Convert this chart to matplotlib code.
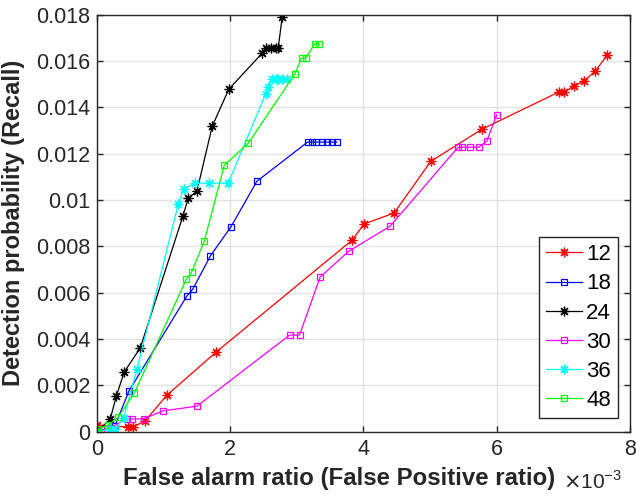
import matplotlib
matplotlib.use("Agg")
from matplotlib import pyplot as plt
from matplotlib.ticker import FuncFormatter
import numpy as np

plt.rcParams['font.family'] = ['Liberation Sans', 'DejaVu Sans']

# false alarm ratio (x 1e-3) and recall per window size
fa_12 = [0.0, 0.47, 0.54, 0.72, 1.05, 1.79, 3.83, 4.01, 4.46, 5.01, 5.78, 6.93, 7.01, 7.16, 7.31, 7.48, 7.66]
rc_12 = [0.00029, 0.0002, 0.0002, 0.00046, 0.00158, 0.00344, 0.00827, 0.00897, 0.00944, 0.01167,
         0.01306, 0.01466, 0.01466, 0.01492, 0.01514, 0.01557, 0.01626]

fa_18 = [0.0, 0.27, 0.48, 1.35, 1.44, 1.70, 2.01, 2.40, 3.16, 3.22, 3.29, 3.37, 3.46, 3.53, 3.60]
rc_18 = [0.0, 0.00025, 0.00176, 0.00586, 0.00616, 0.00758, 0.00884, 0.01081,
         0.0125, 0.0125, 0.0125, 0.0125, 0.0125, 0.0125, 0.0125]

fa_24 = [0.0, 0.20, 0.29, 0.41, 0.65, 1.29, 1.37, 1.50, 1.73, 1.98, 2.48, 2.53, 2.61, 2.68, 2.72, 2.78]
rc_24 = [0.0, 0.00055, 0.00154, 0.00258, 0.00362, 0.00931, 0.01008, 0.01038, 0.01319, 0.01479,
         0.01634, 0.01656, 0.01656, 0.01656, 0.01656, 0.0179]

fa_30 = [0.0, 0.15, 0.45, 0.53, 0.70, 0.99, 1.50, 2.89, 3.04, 3.35, 3.78, 4.40, 5.42, 5.48,
         5.60, 5.73, 5.85, 6.00]
rc_30 = [0.0, 0.0001, 0.00055, 0.00055, 0.00055, 0.0009, 0.0011, 0.00417, 0.00417, 0.00668,
         0.00779, 0.00887, 0.01228, 0.01228, 0.01228, 0.01228, 0.01254, 0.01367]

fa_36 = [0.0, 0.20, 0.27, 0.40, 0.60, 1.22, 1.30, 1.47, 1.68, 1.97, 2.53, 2.57, 2.63,
         2.68, 2.72, 2.78, 2.85]
rc_36 = [0.0, 0.0001, 0.0001, 0.0006, 0.0027, 0.00982, 0.01047, 0.01073, 0.01073, 0.01073,
         0.01457, 0.01487, 0.01522, 0.01522, 0.01522, 0.01522, 0.01522]

fa_48 = [0.0, 0.02, 0.17, 0.32, 0.56, 1.34, 1.42, 1.61, 1.91, 2.27, 2.97, 3.07, 3.13, 3.27, 3.33]
rc_48 = [0.0, 0.0001, 0.00029, 0.00063, 0.00167, 0.00658, 0.00689, 0.00822, 0.0115, 0.01245,
         0.01544, 0.01613, 0.01613, 0.01674, 0.01674]

labels = ['12', '18', '24', '30', '36', '48']
colors = ['#ff0000', '#0000ff', '#000000', '#ff00ff', '#00ffff', '#00ff00']
star = (8, 2, 0)
markers = [star, 's', star, 's', star, 's']
xs = [fa_12, fa_18, fa_24, fa_30, fa_36, fa_48]
ys = [rc_12, rc_18, rc_24, rc_30, rc_36, rc_48]

fig = plt.figure(figsize=(6.36, 4.97), dpi=100)
ax = fig.add_axes([0.1525, 0.1314, 0.838, 0.839])

for x, y, lab, c, m in zip(xs, ys, labels, colors, markers):
    ax.plot(x, y, color=c, marker=m, markersize=7 if m == star else 5,
            markerfacecolor='none', markeredgecolor=c, markeredgewidth=0.9,
            linewidth=0.9, label=lab)

ax.set_xlim(0, 8)
ax.set_ylim(0, 0.018)
ax.set_xticks([0, 2, 4, 6, 8])
ax.set_yticks(np.arange(0, 0.0181, 0.002))
ax.yaxis.set_major_formatter(FuncFormatter(lambda v, p: '%g' % round(v, 4)))
ax.grid(True, color='#e3e3e3', linewidth=1)
ax.set_axisbelow(True)
ax.tick_params(direction='in', top=True, right=True, length=4, width=1,
               colors='#262626', labelsize=15.5, pad=5)
for s in ax.spines.values():
    s.set_color('#262626')
    s.set_linewidth(1)

ax.set_xlabel('False alarm ratio (False Positive ratio)', fontsize=17.3,
              fontweight='bold', color='#262626', labelpad=2)
ax.xaxis.set_label_coords(0.454, -0.085)
ax.set_ylabel('Detection probability (Recall)', fontsize=17,
              fontweight='bold', color='#262626', labelpad=2)
ax.yaxis.set_label_coords(-0.135, 0.5)

fig.text(0.885, 0.008, r'$\times$10$^{\mathregular{-3}}$', fontsize=15,
         color='#262626', ha='left', va='bottom')

leg = ax.legend(loc='lower right', bbox_to_anchor=(0.977, 0.033), fontsize=16,
                fancybox=False, framealpha=1, edgecolor='#262626',
                handlelength=1.6, labelspacing=0.37, borderpad=0.3,
                handletextpad=0.2, borderaxespad=0)
leg.get_frame().set_linewidth(1)

fig.savefig('out.png', dpi=100)
